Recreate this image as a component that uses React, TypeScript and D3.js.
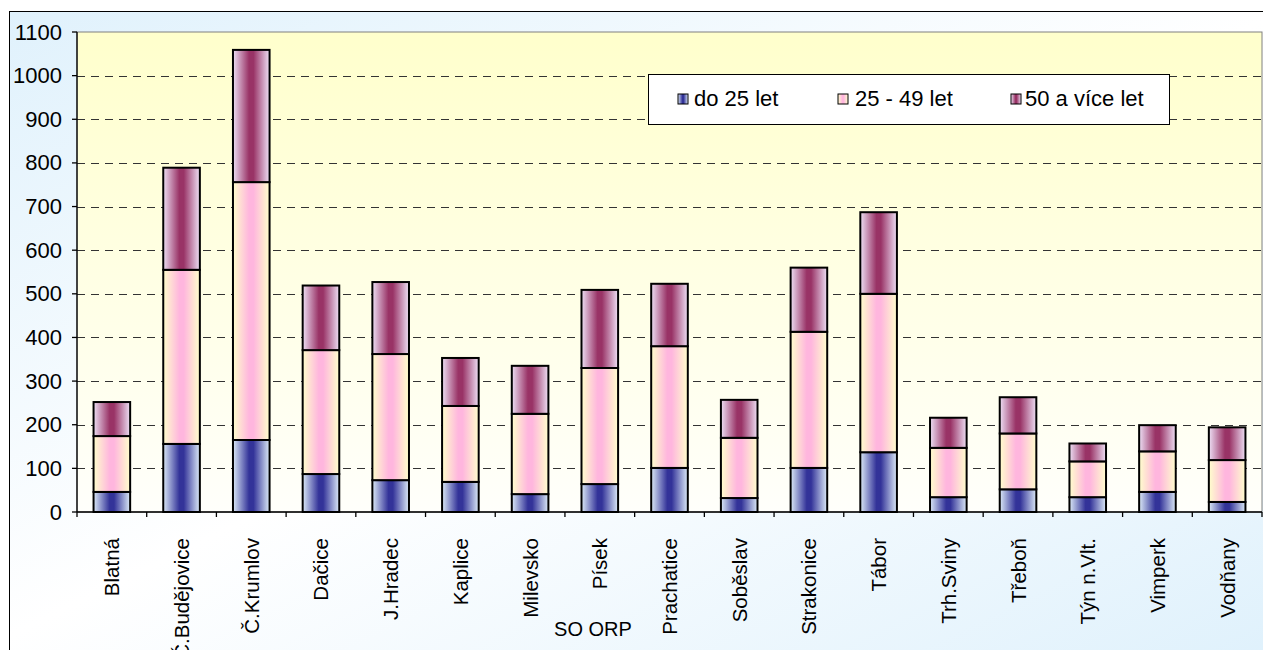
import React from "react";
import * as d3 from "d3";

const categories = [
  "Blatná", "Č.Budějovice", "Č.Krumlov", "Dačice", "J.Hradec", "Kaplice",
  "Milevsko", "Písek", "Prachatice", "Soběslav", "Strakonice", "Tábor",
  "Trh.Sviny", "Třeboň", "Týn n.Vlt.", "Vimperk", "Vodňany",
];
const seriesNames = ["do 25 let", "25 - 49 let", "50 a více let"];
const under25 = [46, 156, 165, 87, 73, 69, 41, 64, 101, 32, 101, 137, 34, 52, 34, 46, 23];
const from25to49 = [128, 399, 591, 284, 289, 174, 184, 266, 279, 138, 312, 363, 113, 128, 82, 93, 96];
const over50 = [78, 234, 303, 148, 165, 110, 110, 179, 143, 87, 147, 187, 69, 83, 41, 60, 75];
const yTicks = [0, 100, 200, 300, 400, 500, 600, 700, 800, 900, 1000, 1100];
const xAxisTitle = "SO ORP";

const W = 1263;
const H = 650;
const FONT = "'Liberation Sans', Arial, Helvetica, sans-serif";

const gradColors = [
  { id: "g0", edge: "#DCEAF7", mid: "#333399" },
  { id: "g1", edge: "#FFFFCC", mid: "#FFB6DE" },
  { id: "g2", edge: "#EEE0F5", mid: "#993366" },
];

export default function App() {
  const plot = { left: 77, right: 1262, top: 32, bottom: 512 };
  const x = d3
    .scaleBand<string>()
    .domain(categories)
    .range([plot.left, plot.right])
    .paddingInner(0.475)
    .paddingOuter(0.2375);
  const y = d3.scaleLinear().domain([0, 1100]).range([plot.bottom, plot.top]);

  const rows = categories.map((c, i) => ({
    cat: c,
    s0: under25[i],
    s1: from25to49[i],
    s2: over50[i],
  }));
  const stack = d3.stack<any>().keys(["s0", "s1", "s2"]);
  const layers = stack(rows);

  const step = x.step();
  const boundaries = categories.map((_, i) => plot.left + i * step).concat([plot.right]);

  const legendItems = [
    { sw: 678, tx: 694 },
    { sw: 838, tx: 855 },
    { sw: 1011, tx: 1025 },
  ];

  return (
    <svg
      width={W}
      height={H}
      style={{ position: "absolute", left: 0, top: 0, display: "block" }}
      fontFamily={FONT}
    >
      <defs>
        <linearGradient id="outerBg" gradientUnits="userSpaceOnUse" x1={0} y1={0} x2={507} y2={1033}>
          <stop offset="0" stopColor="#DFF1FC" />
          <stop offset="0.5" stopColor="#FFFFFF" />
          <stop offset="1" stopColor="#DFF1FC" />
        </linearGradient>
        <linearGradient id="plotBg" x1="0" y1="0" x2="0" y2="1">
          <stop offset="0" stopColor="#FFFFCC" />
          <stop offset="1" stopColor="#FFFFFB" />
        </linearGradient>
        {gradColors.map((g) => (
          <linearGradient key={g.id} id={g.id} x1="0" y1="0" x2="1" y2="0">
            <stop offset="0" stopColor={g.edge} />
            <stop offset="0.44" stopColor={g.mid} />
            <stop offset="0.56" stopColor={g.mid} />
            <stop offset="1" stopColor={g.edge} />
          </linearGradient>
        ))}
      </defs>

      <rect x={0} y={0} width={W} height={H} fill="#FFFFFF" />
      <rect x={9.5} y={11.5} width={W + 20} height={H + 20} fill="url(#outerBg)" stroke="#000" strokeWidth={1} />

      {/* plot area */}
      <rect
        x={plot.left}
        y={plot.top}
        width={plot.right - plot.left}
        height={plot.bottom - plot.top}
        fill="url(#plotBg)"
        stroke="#808080"
        strokeWidth={1}
      />

      {/* gridlines */}
      {yTicks
        .filter((t) => t > 0 && t < 1100)
        .map((t) => (
          <line
            key={"g" + t}
            x1={plot.left}
            x2={plot.right}
            y1={Math.round(y(t)) + 0.5}
            y2={Math.round(y(t)) + 0.5}
            stroke="#333333"
            strokeWidth={1.2}
            strokeDasharray="8,6"
          />
        ))}

      {/* bars */}
      {layers.map((layer, li) => (
        <g key={layer.key}>
          {layer.map((d: any, i: number) => (
            <rect
              key={i}
              x={x(categories[i])!}
              y={y(d[1])}
              width={x.bandwidth()}
              height={y(d[0]) - y(d[1])}
              fill={`url(#${gradColors[li].id})`}
              stroke="#000"
              strokeWidth={2}
            />
          ))}
        </g>
      ))}

      {/* y axis */}
      <line x1={plot.left} x2={plot.left} y1={plot.top} y2={plot.bottom} stroke="#000" strokeWidth={1.3} />
      {yTicks.map((t) => (
        <g key={"t" + t}>
          <line x1={plot.left - 5} x2={plot.left} y1={y(t)} y2={y(t)} stroke="#000" strokeWidth={1.3} />
          <text x={62} y={y(t)} textAnchor="end" dominantBaseline="central" fontSize={22} fill="#000">
            {t}
          </text>
        </g>
      ))}

      {/* x axis */}
      <line x1={plot.left} x2={plot.right} y1={plot.bottom} y2={plot.bottom} stroke="#000" strokeWidth={1.3} />
      {boundaries.map((bx, i) => (
        <line key={"xb" + i} x1={bx} x2={bx} y1={plot.bottom} y2={plot.bottom + 5} stroke="#000" strokeWidth={1.3} />
      ))}
      {categories.map((c) => (
        <text
          key={"xl" + c}
          transform={`translate(${x(c)! + x.bandwidth() / 2},538) rotate(-90)`}
          textAnchor="end"
          dominantBaseline="central"
          fontSize={20.5}
          fill="#000"
        >
          {c}
        </text>
      ))}
      <text x={593} y={636} textAnchor="middle" fontSize={20} fill="#000">
        {xAxisTitle}
      </text>

      {/* legend */}
      <rect x={648.5} y={74.5} width={521} height={50} fill="#FFFFFF" stroke="#000" strokeWidth={1} />
      {seriesNames.map((s, i) => (
        <g key={s}>
          <rect
            x={legendItems[i].sw}
            y={94}
            width={10}
            height={10}
            fill={`url(#${gradColors[i].id})`}
            stroke="#000"
            strokeWidth={1}
          />
          <text x={legendItems[i].tx} y={106} fontSize={22} fill="#000">
            {s}
          </text>
        </g>
      ))}
    </svg>
  );
}
